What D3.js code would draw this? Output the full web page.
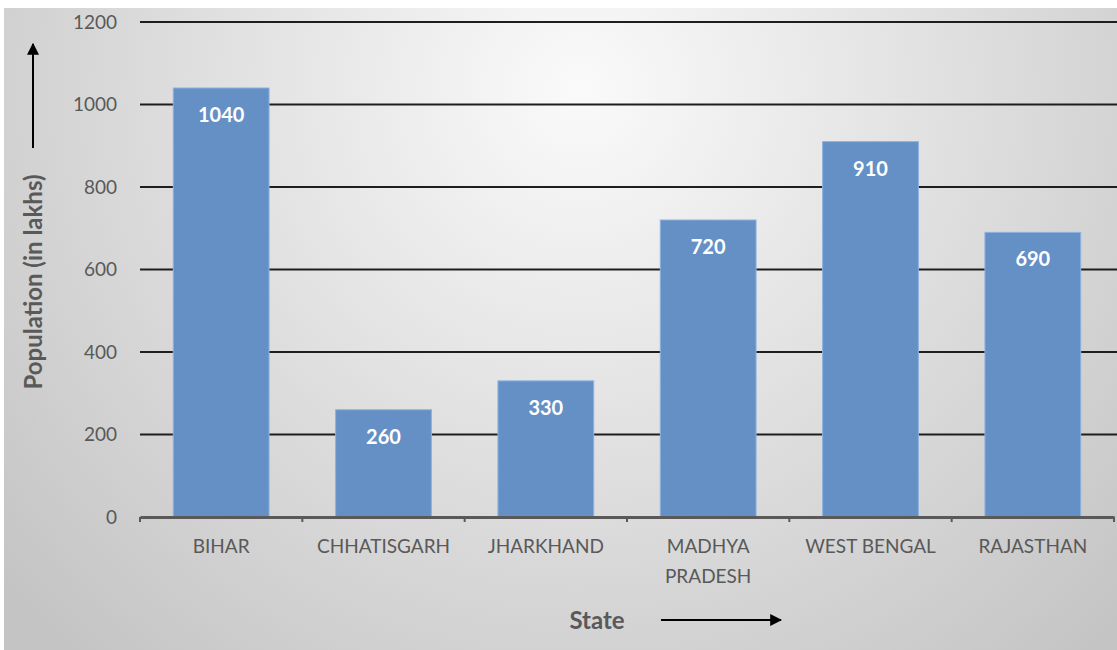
<!DOCTYPE html>
<html>
<head>
<meta charset="utf-8">
<script src="https://cdn.jsdelivr.net/npm/d3@7"></script>
<style>
  body { margin: 0; background: #fff; }
  svg { display: block; font-family: Lato, "Open Sans", sans-serif; }
</style>
</head>
<body>
<div id="chart"></div>
<script>
// population by state (in lakhs)
var states = ["BIHAR", "CHHATISGARH", "JHARKHAND", "MADHYA PRADESH", "WEST BENGAL", "RAJASTHAN"];
var population = [1040, 260, 330, 720, 910, 690];
var yTicks = [0, 200, 400, 600, 800, 1000, 1200];

var data = states.map(function(s, i) { return { state: s, value: population[i] }; });

var W = 1117, H = 650;
var plotLeft = 140, plotRight = 1114, plotTop = 22, plotBottom = 517;

var svg = d3.select("#chart").append("svg")
    .attr("width", W)
    .attr("height", H);

var defs = svg.append("defs");
var grad = defs.append("radialGradient")
    .attr("id", "bg")
    .attr("gradientUnits", "userSpaceOnUse")
    .attr("cx", 580).attr("cy", 90).attr("r", 760);
grad.append("stop").attr("offset", "0%").attr("stop-color", "#fafafa");
grad.append("stop").attr("offset", "100%").attr("stop-color", "#c4c4c4");

var arrow = defs.append("marker")
    .attr("id", "arr")
    .attr("viewBox", "0 0 10 10")
    .attr("refX", 9).attr("refY", 5)
    .attr("markerWidth", 6).attr("markerHeight", 6)
    .attr("orient", "auto");
arrow.append("path").attr("d", "M0,0L10,5L0,10Z").attr("fill", "#000");

// chart area background
svg.append("rect")
    .attr("x", 4).attr("y", 8)
    .attr("width", W - 4).attr("height", H - 8)
    .attr("fill", "url(#bg)");

var x = d3.scaleBand()
    .domain(states)
    .range([plotLeft, plotRight])
    .paddingInner(0.41)
    .paddingOuter(0.205);

var y = d3.scaleLinear()
    .domain([0, 1200])
    .range([plotBottom, plotTop]);

// gridlines
svg.append("g")
    .selectAll("line")
    .data(yTicks.filter(function(d) { return d > 0; }))
    .enter().append("line")
    .attr("x1", plotLeft).attr("x2", W)
    .attr("y1", function(d) { return y(d); })
    .attr("y2", function(d) { return y(d); })
    .attr("stroke", "#1e1e1e")
    .attr("stroke-width", 2);

// y tick labels
svg.append("g")
    .selectAll("text")
    .data(yTicks)
    .enter().append("text")
    .attr("x", 117)
    .attr("y", function(d) { return y(d); })
    .attr("dy", "0.35em")
    .attr("text-anchor", "end")
    .attr("fill", "#595959")
    .style("font-size", "19px")
    .text(function(d) { return d; });

// bars
svg.selectAll(".bar")
    .data(data)
    .enter().append("rect")
    .attr("class", "bar")
    .attr("x", function(d) { return x(d.state); })
    .attr("width", x.bandwidth())
    .attr("y", function(d) { return y(d.value); })
    .attr("height", function(d) { return plotBottom - y(d.value); })
    .attr("fill", "#6490c5")
    .attr("stroke", "#8cb2df")
    .attr("stroke-width", 1);

// value labels
svg.selectAll(".val")
    .data(data)
    .enter().append("text")
    .attr("class", "val")
    .attr("x", function(d) { return x(d.state) + x.bandwidth() / 2; })
    .attr("y", function(d) { return y(d.value) + 34; })
    .attr("text-anchor", "middle")
    .attr("fill", "#fff")
    .style("font-size", "20px")
    .style("font-weight", "bold")
    .text(function(d) { return d.value; });

// x axis
var xAxis = svg.append("g")
    .attr("transform", "translate(0," + plotBottom + ")")
    .call(d3.axisBottom(x).tickSize(0).tickPadding(0).tickFormat(""));
xAxis.select(".domain").attr("stroke", "#595959").attr("stroke-width", 3);

var step = x.step();
xAxis.selectAll(".sep")
    .data(d3.range(states.length + 1))
    .enter().append("line")
    .attr("class", "sep")
    .attr("x1", function(i) { return plotLeft + i * step; })
    .attr("x2", function(i) { return plotLeft + i * step; })
    .attr("y1", 0).attr("y2", 5)
    .attr("stroke", "#595959")
    .attr("stroke-width", 2);

// x labels (wrap two-word long names)
svg.selectAll(".xl")
    .data(states)
    .enter().append("text")
    .attr("class", "xl")
    .attr("text-anchor", "middle")
    .attr("fill", "#595959")
    .style("font-size", "19px")
    .each(function(d) {
        var t = d3.select(this);
        var cx = x(d) + x.bandwidth() / 2;
        var lines = d === "MADHYA PRADESH" ? d.split(" ") : [d];
        lines.forEach(function(l, i) {
            t.append("tspan").attr("x", cx).attr("y", 553 + i * 30).text(l);
        });
    });

// axis titles with arrows
svg.append("text")
    .attr("transform", "translate(42,282) rotate(-90)")
    .attr("text-anchor", "middle")
    .attr("fill", "#595959")
    .style("font-size", "24px")
    .style("font-weight", "bold")
    .text("Population (in lakhs)");

svg.append("line")
    .attr("x1", 33).attr("x2", 33)
    .attr("y1", 148).attr("y2", 44)
    .attr("stroke", "#000").attr("stroke-width", 2)
    .attr("marker-end", "url(#arr)");

svg.append("text")
    .attr("x", 597).attr("y", 629)
    .attr("text-anchor", "middle")
    .attr("fill", "#595959")
    .style("font-size", "24px")
    .style("font-weight", "bold")
    .text("State");

svg.append("line")
    .attr("x1", 661).attr("x2", 781)
    .attr("y1", 620).attr("y2", 620)
    .attr("stroke", "#000").attr("stroke-width", 2)
    .attr("marker-end", "url(#arr)");
</script>
</body>
</html>
